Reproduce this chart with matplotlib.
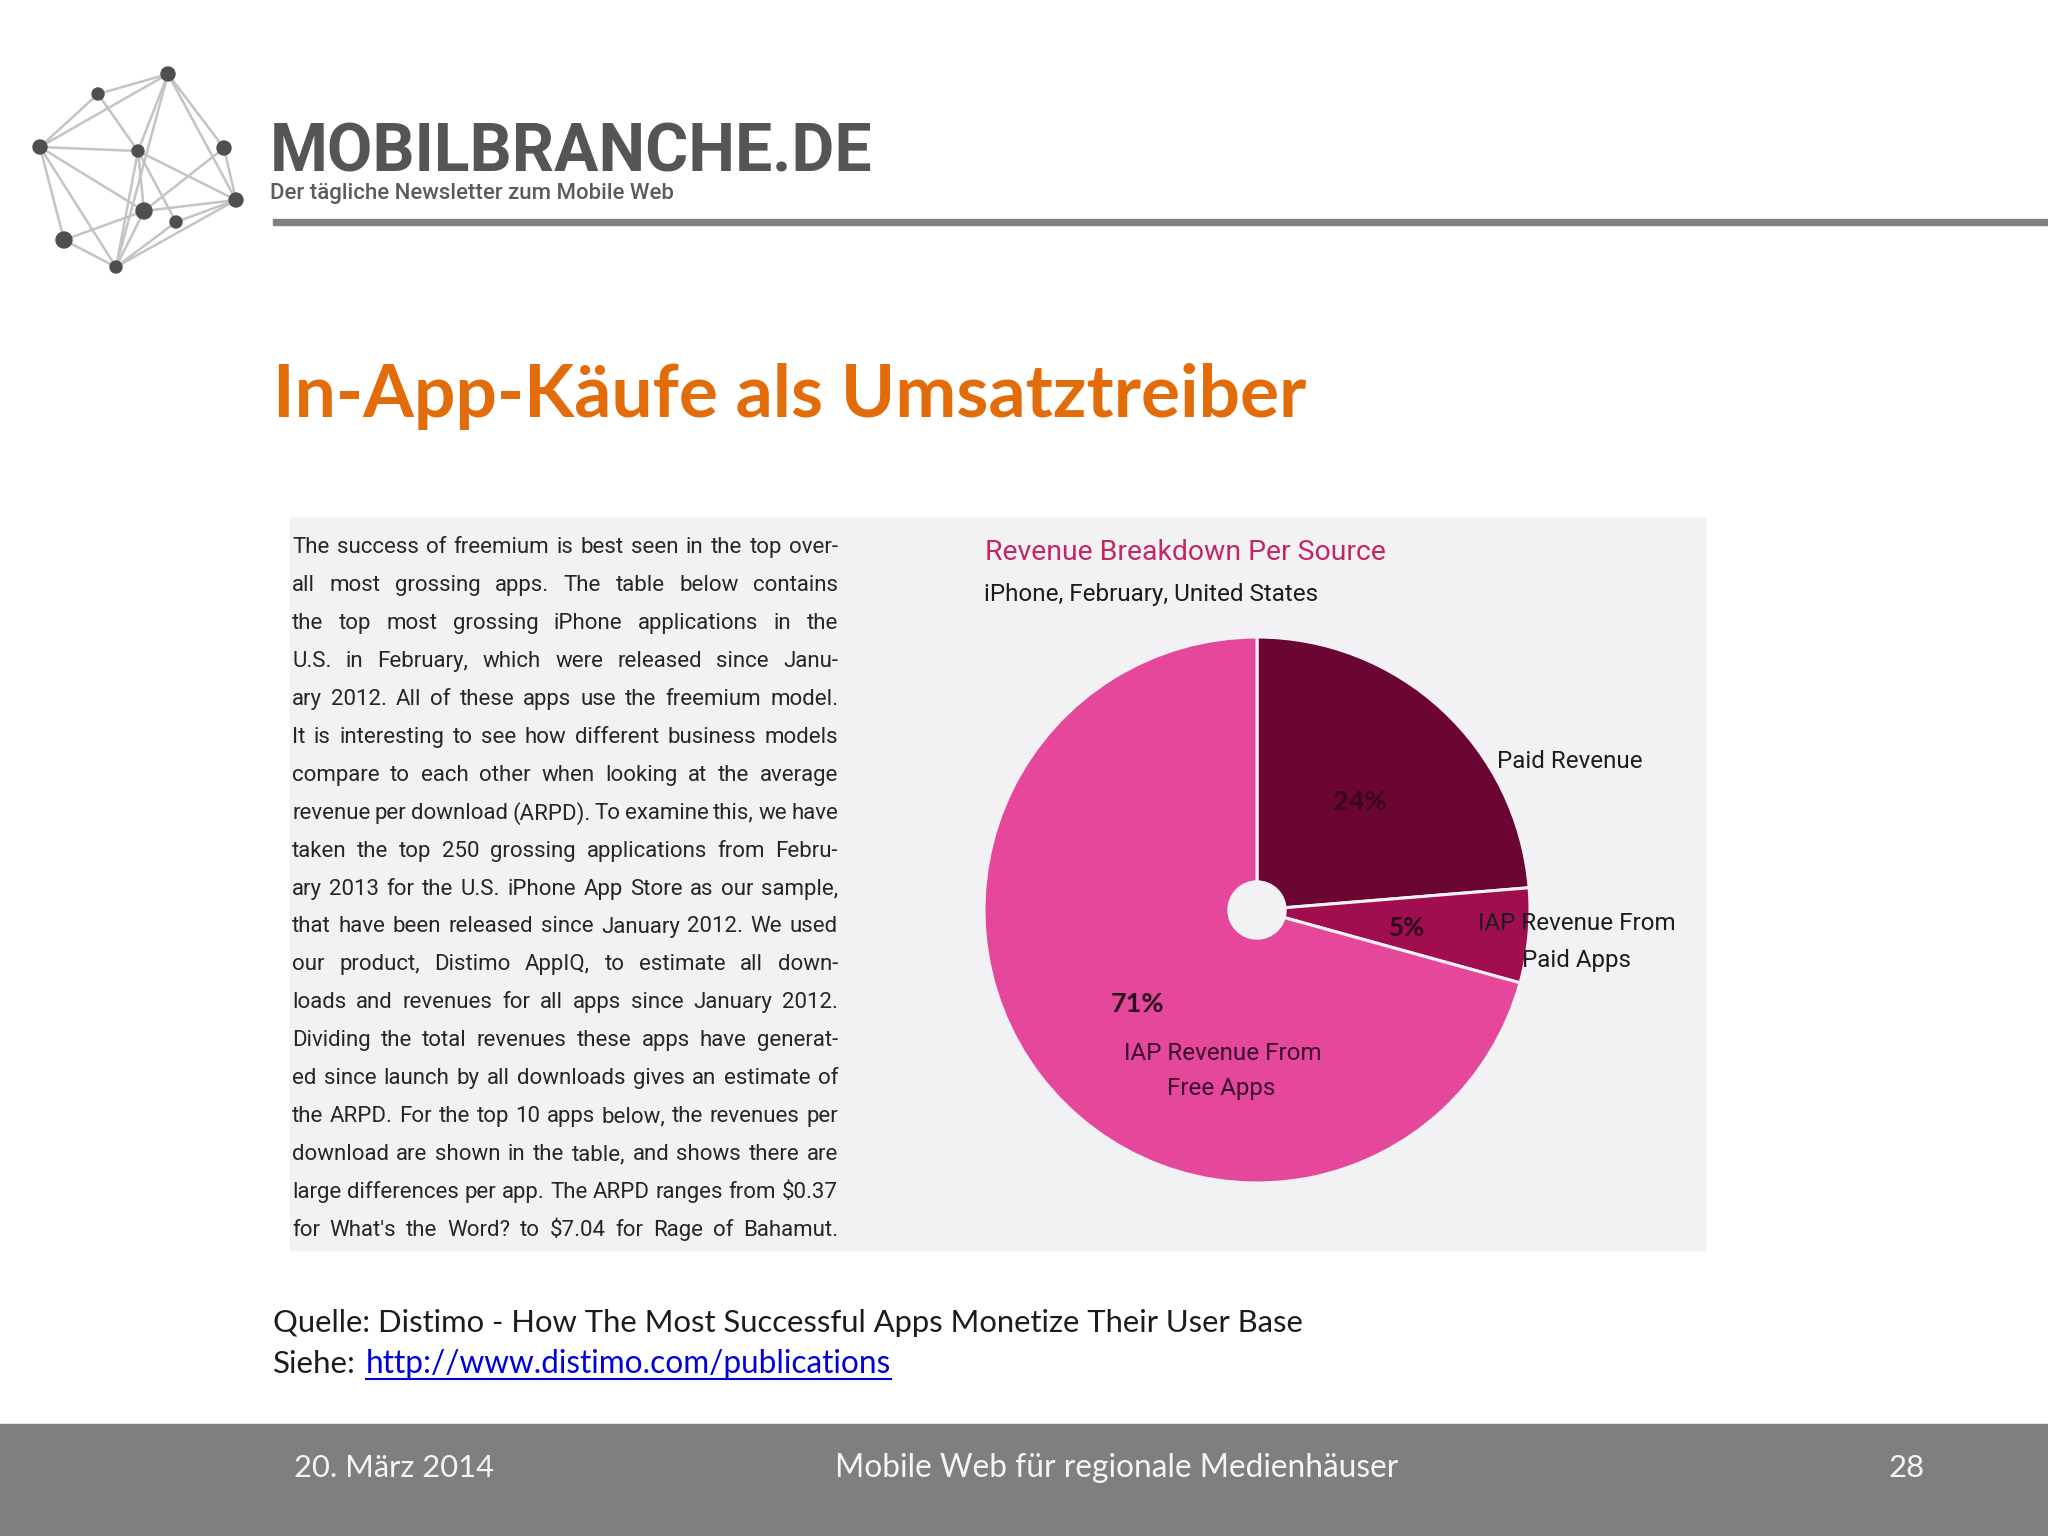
import matplotlib
matplotlib.use("Agg")
import matplotlib.pyplot as plt
from matplotlib.patches import Rectangle, Circle

W, H = 2048, 1536
PANEL = '#f2f2f4'

# pie values
sources = ['Paid Revenue', 'IAP Revenue From Paid Apps', 'IAP Revenue From Free Apps']
shares = [23.7, 5.6, 70.7]
share_labels = ['24%', '5%', '71%']
slice_colors = ['#6b0533', '#a00e50', '#e5479b']

body_lines = [
    "The success of freemium is best seen in the top over-",
    "all most grossing apps. The table below contains",
    "the top most grossing iPhone applications in the",
    "U.S. in February, which were released since Janu-",
    "ary 2012. All of these apps use the freemium model.",
    "It is interesting to see how different business models",
    "compare to each other when looking at the average",
    "revenue per download (ARPD). To examine this, we have",
    "taken the top 250 grossing applications from Febru-",
    "ary 2013 for the U.S. iPhone App Store as our sample,",
    "that have been released since January 2012. We used",
    "our product, Distimo AppIQ, to estimate all down-",
    "loads and revenues for all apps since January 2012.",
    "Dividing the total revenues these apps have generat-",
    "ed since launch by all downloads gives an estimate of",
    "the ARPD. For the top 10 apps below, the revenues per",
    "download are shown in the table, and shows there are",
    "large differences per app. The ARPD ranges from $0.37",
    "for What's the Word? to $7.04 for Rage of Bahamut.",
]

# logo network
logo_nodes = {'a': (168, 74, 7), 'b': (98, 94, 6), 'c': (40, 147, 7), 'd': (138, 151, 6),
              'e': (224, 148, 7), 'f': (236, 200, 7), 'g': (144, 211, 8), 'h': (176, 222, 6),
              'i': (64, 240, 8), 'j': (116, 267, 6)}
logo_edges = ['ab', 'ac', 'ad', 'ae', 'af', 'aj', 'bc', 'bd', 'cd', 'cg', 'ci', 'cj', 'dg', 'dh',
              'df', 'dj', 'ef', 'eg', 'fg', 'fh', 'fj', 'gi', 'gj', 'hj', 'ij']

plt.rcParams['font.family'] = ['Lato', 'DejaVu Sans']
fig = plt.figure(figsize=(W / 100, H / 100), dpi=100, facecolor='white')
ax = fig.add_axes([0, 0, 1, 1])


def py(y):
    return H - y


def label(x, y, s, size, color='#1c1c1c', ha='center', **kw):
    return ax.text(x, py(y), s, fontsize=size, color=color, ha=ha, va='center', **kw)


def justified(line, y, x0, x1, size):
    r = fig.canvas.get_renderer()
    words = line.split()
    widths = []
    for w in words:
        t = ax.text(0, 0, w, fontsize=size, family='Roboto')
        widths.append(t.get_window_extent(r).width)
        t.remove()
    gap = (x1 - x0 - sum(widths)) / (len(words) - 1)
    x = x0
    for w, wd in zip(words, widths):
        ax.text(x, py(y), w, fontsize=size, family='Roboto', color='#262626', ha='left', va='center')
        x += wd + gap


# header
for e in logo_edges:
    n1, n2 = logo_nodes[e[0]], logo_nodes[e[1]]
    ax.plot([n1[0], n2[0]], [py(n1[1]), py(n2[1])], color='#c4c4c4', lw=1.8, zorder=1)
for x, y, r in logo_nodes.values():
    ax.add_patch(Circle((x, py(y)), r, color='#4f4f4f', zorder=2))
label(270, 153, 'MOBILBRANCHE.DE', 47.5, color='#555555', ha='left', family='Roboto', weight='bold')
label(270, 193, 'Der tägliche Newsletter zum Mobile Web', 16, color='#5c5c5c', ha='left',
      family='Roboto', weight='medium')
ax.add_patch(Rectangle((273, py(225)), W - 273, 6, color='#808080'))

# title
label(273, 396, 'In-App-Käufe als Umsatztreiber', 52.7, color='#e36c0a', ha='left', weight='bold')

# grey panel with the scanned page
ax.add_patch(Rectangle((290, py(1250)), 1415, 732, color=PANEL, zorder=0))
for i, line in enumerate(body_lines):
    justified(line, 547.5 + i * 37.95, 292, 838, 16)

label(985, 552, 'Revenue Breakdown Per Source', 20.4, color='#c2285f', ha='left', family='Roboto')
label(984, 595, 'iPhone, February, United States', 17.5, ha='left', family='Roboto')

ax.pie(shares, colors=slice_colors, startangle=90, counterclock=False, center=(1257, py(910)), radius=273,
       wedgeprops={'edgecolor': PANEL, 'linewidth': 2.2})
ax.add_patch(Circle((1257, py(910)), 29, color=PANEL, zorder=3))

label(1360, 802, share_labels[0], 19.5, color='#3a0322', weight='bold')
label(1407, 928, share_labels[1], 18.5, color='#2a0318', weight='bold')
label(1137, 1004, share_labels[2], 19.5, color='#2a0a20', weight='bold')
label(1570, 762, 'Paid Revenue', 17.4, family='Roboto')
label(1577, 923, 'IAP Revenue From', 17.4, family='Roboto')
label(1576, 960, 'Paid Apps', 17.4, family='Roboto')
label(1223, 1054, 'IAP Revenue From', 17.4, color='#3a0a2c', family='Roboto')
label(1221, 1089, 'Free Apps', 17.4, color='#3a0a2c', family='Roboto')

# source
label(273, 1323, 'Quelle: Distimo - How The Most Successful Apps Monetize Their User Base', 22.3, ha='left')
label(273, 1364, 'Siehe:', 22.6, ha='left')
link = label(366, 1364, 'http://www.distimo.com/publications', 22.7, color='#0000d8', ha='left')

# footer band
ax.add_patch(Rectangle((0, 0), W, H - 1424, color='#7f7f7f'))
label(294, 1468, '20. März 2014', 22.2, color='#f5f5f5', ha='left')
label(1117, 1468, 'Mobile Web für regionale Medienhäuser', 22.8, color='#f5f5f5')
label(1907, 1468, '28', 22.3, color='#f5f5f5')

ax.set_xlim(0, W)
ax.set_ylim(0, H)
ax.set_aspect('auto')
ax.axis('off')

# link underline, measured once the limits are final
box = link.get_window_extent(fig.canvas.get_renderer())
ax.plot([box.x0, box.x1], [py(1379), py(1379)], color='#0000d8', lw=1.5)
ax.set_xlim(0, W)
ax.set_ylim(0, H)
fig.savefig('out.png', dpi=100)
